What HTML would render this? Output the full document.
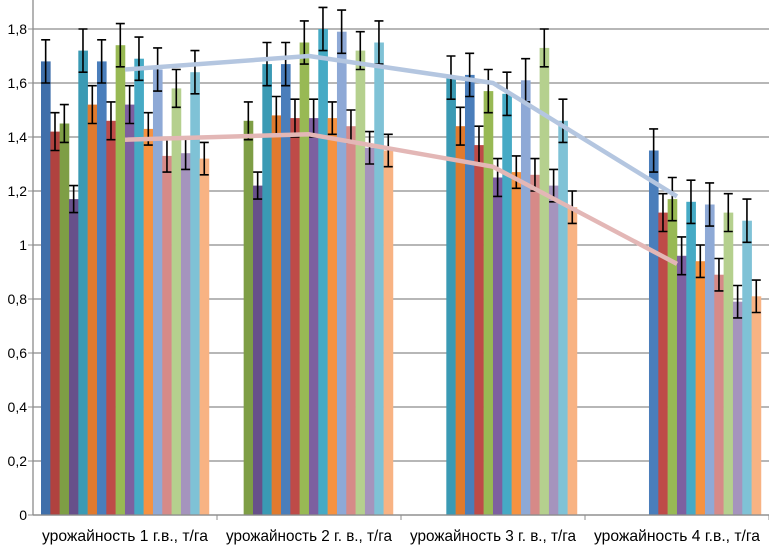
<!DOCTYPE html>
<html><head><meta charset="utf-8"><style>
html,body{margin:0;padding:0;background:#fff}
svg{display:block;font-family:"Liberation Sans",sans-serif}
</style></head><body>
<svg id="chart" width="769" height="548"></svg>
<script>
const categories=["урожайность 1 г.в., т/га","урожайность 2 г. в., т/га","урожайность 3 г. в., т/га","урожайность 4 г.в., т/га"];
const yTicks=[0,0.2,0.4,0.6,0.8,1,1.2,1.4,1.6,1.8];
const yTickLabels=["0","0,2","0,4","0,6","0,8","1","1,2","1,4","1,6","1,8"];
const seriesColors=["#3F6FAA","#B0423F","#7E9E45","#67508A","#3A9AB4","#E07A2E","#4A7EBB","#BE4B48","#98B954","#7D60A0","#46AAC5","#F69240","#8EA9D6","#D68A88","#B5D08E","#A594BD","#7FC2D6","#F8B383"];
const values1=[1.68,1.42,1.45,1.17,1.72,1.52,1.68,1.46,1.74,1.52,1.69,1.43,1.65,1.33,1.58,1.34,1.64,1.32];
const values2=[null,null,1.46,1.22,1.67,1.48,1.67,1.47,1.75,1.47,1.80,1.47,1.79,1.44,1.72,1.36,1.75,1.35];
const values3=[null,null,null,null,1.62,1.44,1.63,1.37,1.57,1.25,1.56,1.27,1.61,1.26,1.73,1.22,1.46,1.14];
const values4=[null,null,null,null,null,null,1.35,1.12,1.17,0.96,1.16,0.94,1.15,0.89,1.12,0.79,1.09,0.81];
const errors=[0.08,0.07,0.07,0.05,0.08,0.07,0.08,0.07,0.08,0.07,0.08,0.06,0.08,0.06,0.07,0.06,0.08,0.06];
const lineUpper=[1.65,1.70,1.60,1.18];
const lineLower=[1.39,1.41,1.29,0.93];

const svg=document.getElementById('chart');
const NS="http://www.w3.org/2000/svg";
const X0=33,X1=769,Y0=515,PXU=270,GW=184,BW=9.33,GOFF=8;
const y=v=>Y0-v*PXU;
const gx=i=>X0+GW*i;
const bx=(g,s)=>gx(g)+GOFF+s*BW;
const cx=g=>gx(g)+GW/2;
function mk(t,a){const e=document.createElementNS(NS,t);for(const k in a)e.setAttribute(k,a[k]);svg.appendChild(e);return e;}

yTicks.forEach((t,i)=>{
  const gl=mk('line',{x1:X0,x2:X1,y1:y(t),y2:y(t),stroke:'#8c8c8c','stroke-width':1.3});
  
  
  const tl=mk('text',{x:27,y:y(t)+5,'text-anchor':'end','font-size':14,fill:'#000'});
  tl.textContent=yTickLabels[i];
  
  
  const tk=mk('line',{x1:28,x2:X0,y1:y(t),y2:y(t),stroke:'#8c8c8c'});
  
  
});
const ya=mk('line',{x1:X0,x2:X0,y1:0,y2:Y0,stroke:'#8c8c8c','stroke-width':1.3});



const allVals=[values1,values2,values3,values4];
allVals.forEach((vals,g)=>{
  vals.forEach((v,s)=>{
    if(v===null)return;
    const r=mk('rect',{x:bx(g,s),y:y(v),width:BW+0.3,height:v*PXU,fill:seriesColors[s]});
    
    
  });
});
allVals.forEach((vals,g)=>{
  vals.forEach((v,s)=>{
    if(v===null)return;
    const c=bx(g,s)+BW/2,e=errors[s];
    const p=mk('path',{d:`M${c},${y(v+e)}V${y(v-e)}M${c-4.5},${y(v+e)}H${c+4.5}M${c-4.5},${y(v-e)}H${c+4.5}`,stroke:'#000','stroke-width':1.6,fill:'none'});
    
    
  });
});
function line(vals,color,name){
  const d=vals.map((v,i)=>(i?'L':'M')+cx(i)+','+y(v)).join('');
  const p=mk('path',{d:d,stroke:color,'stroke-width':4.5,fill:'none','stroke-linejoin':'round'});
  
  
}
line(lineUpper,'#B4C6E0','upper-trend-line');
line(lineLower,'#E3B7B6','lower-trend-line');

const xa=mk('line',{x1:X0,x2:X1,y1:Y0,y2:Y0,stroke:'#8c8c8c','stroke-width':1.3});


categories.forEach((c,i)=>{
  const tk=mk('line',{x1:gx(i+1),x2:gx(i+1),y1:Y0,y2:Y0+5,stroke:'#8c8c8c'});
  
  
  const t=mk('text',{x:cx(i),y:541,'text-anchor':'middle','font-size':16,fill:'#000',textLength:166,lengthAdjust:'spacingAndGlyphs'});
  t.textContent=c;
  
  
});
</script>
</body></html>
